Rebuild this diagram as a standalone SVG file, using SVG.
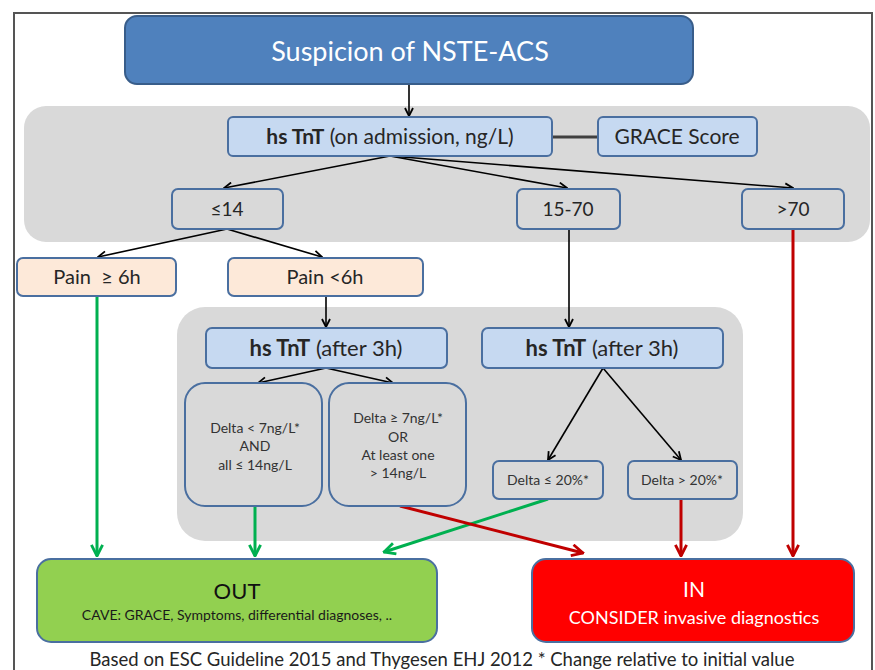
<svg xmlns="http://www.w3.org/2000/svg" width="875" height="670" viewBox="0 0 875 670">
<defs>
<style>
text{font-family:Lato,"Liberation Sans",sans-serif;text-anchor:middle;fill:#262626}
.area{fill:#d9d9d9}
.lb{fill:#c6d9f1;stroke:#4a6fa0;stroke-width:2}
.gb{fill:#d9d9d9;stroke:#4a6fa0;stroke-width:2}
.pb{fill:#fde9d9;stroke:#4a6fa0;stroke-width:2}
.k{stroke:#000;stroke-width:1.6;fill:none;marker-end:url(#ak)}
.g{stroke:#00b050;stroke-width:3;fill:none;marker-end:url(#ag)}
.r{stroke:#c00000;stroke-width:3;fill:none;marker-end:url(#ar)}
.s{font-size:14px;fill:#333}
</style>
<marker id="ak" viewBox="0 0 10 10" refX="9" refY="5" markerWidth="10" markerHeight="10" orient="auto" markerUnits="userSpaceOnUse"><path d="M1,1 L9,5 L1,9" fill="none" stroke="#000" stroke-width="1.8"/></marker>
<marker id="ag" viewBox="0 0 10 10" refX="9" refY="5" markerWidth="14" markerHeight="14" orient="auto" markerUnits="userSpaceOnUse"><path d="M1,1 L9,5 L1,9" fill="none" stroke="#00b050" stroke-width="2"/></marker>
<marker id="ar" viewBox="0 0 10 10" refX="9" refY="5" markerWidth="14" markerHeight="14" orient="auto" markerUnits="userSpaceOnUse"><path d="M1,1 L9,5 L1,9" fill="none" stroke="#c00000" stroke-width="2"/></marker>
</defs>
<rect x="0" y="0" width="875" height="670" fill="#fff"/>
<rect x="14" y="13" width="858" height="680" fill="none" stroke="#555" stroke-width="2"/>
<g id="areas">
<rect class="area" x="24" y="106" width="846" height="136" rx="22"/>
<rect class="area" x="177" y="307" width="566" height="234" rx="28"/>
</g>
<g id="connectors">
<line class="k" x1="409" y1="84" x2="409" y2="116"/>
<line x1="552" y1="137" x2="598" y2="137" stroke="#404040" stroke-width="3"/>
<line class="k" x1="390" y1="156" x2="224" y2="188"/>
<line class="k" x1="390" y1="156" x2="567" y2="188"/>
<line class="k" x1="390" y1="156" x2="793" y2="188"/>
<line class="k" x1="227" y1="229" x2="98" y2="257"/>
<line class="k" x1="227" y1="229" x2="322" y2="257"/>
<line class="k" x1="326" y1="296" x2="326" y2="327"/>
<line class="k" x1="569" y1="229" x2="569" y2="327"/>
<line class="k" x1="326" y1="368" x2="258" y2="383"/>
<line class="k" x1="326" y1="368" x2="393" y2="383"/>
<line class="k" x1="603" y1="368" x2="548" y2="460"/>
<line class="k" x1="603" y1="368" x2="681" y2="460"/>
<line class="g" x1="97" y1="296" x2="97" y2="556"/>
<line class="g" x1="255" y1="506" x2="255" y2="556"/>
<line class="g" x1="548" y1="499" x2="384" y2="552"/>
<line class="r" x1="400" y1="506" x2="583" y2="553"/>
<line class="r" x1="681" y1="499" x2="681" y2="556"/>
<line class="r" x1="793" y1="229" x2="793" y2="556"/>
</g>
<g id="n-start">
<rect x="125" y="16" width="568" height="68" rx="12" fill="#4f81bd" stroke="#385d8a" stroke-width="2"/>
<text x="410" y="61" font-size="27" style="fill:#fff">Suspicion of NSTE-ACS</text>
</g>
<g id="n-hstnt">
<rect class="lb" x="228" y="117" width="324" height="39" rx="5"/>
<text x="390" y="144" font-size="21"><tspan font-weight="bold">hs TnT</tspan> (on admission, ng/L)</text>
</g>
<g id="n-grace">
<rect class="lb" x="598" y="117" width="159" height="39" rx="5"/>
<text x="677" y="144" font-size="21">GRACE Score</text>
</g>
<g id="n-le14">
<rect class="gb" x="172" y="189" width="111" height="40" rx="6"/>
<text x="227" y="216" font-size="19">≤14</text>
</g>
<g id="n-15-70">
<rect class="gb" x="517" y="189" width="103" height="40" rx="6"/>
<text x="568" y="216" font-size="19">15-70</text>
</g>
<g id="n-gt70">
<rect class="gb" x="742" y="189" width="102" height="40" rx="6"/>
<text x="793" y="216" font-size="19">&gt;70</text>
</g>
<g id="n-pain6">
<rect class="pb" x="17" y="258" width="159" height="38" rx="6"/>
<text x="97" y="284" font-size="20" xml:space="preserve">Pain  ≥ 6h</text>
</g>
<g id="n-painlt6">
<rect class="pb" x="228" y="258" width="195" height="38" rx="6"/>
<text x="325" y="284" font-size="20">Pain &lt;6h</text>
</g>
<g id="n-hs3-left">
<rect class="lb" x="206" y="328" width="241" height="40" rx="6"/>
<text x="326" y="356" font-size="22"><tspan font-weight="bold">hs TnT</tspan> (after 3h)</text>
</g>
<g id="n-hs3-right">
<rect class="lb" x="482" y="328" width="241" height="40" rx="6"/>
<text x="602" y="356" font-size="22"><tspan font-weight="bold">hs TnT</tspan> (after 3h)</text>
</g>
<g id="n-delta-lt7">
<rect class="gb" x="185" y="383" width="137" height="123" rx="20"/>
<text class="s" x="255" y="433">Delta &lt; 7ng/L*</text>
<text class="s" x="255" y="451">AND</text>
<text class="s" x="255" y="470">all  ≤ 14ng/L</text>
</g>
<g id="n-delta-ge7">
<rect class="gb" x="329" y="383" width="137" height="123" rx="20"/>
<text class="s" x="398" y="423">Delta ≥ 7ng/L*</text>
<text class="s" x="398" y="442">OR</text>
<text class="s" x="398" y="460">At least one</text>
<text class="s" x="398" y="478">&gt; 14ng/L</text>
</g>
<g id="n-delta-le20">
<rect class="gb" x="493" y="461" width="110" height="38" rx="6"/>
<text class="s" x="548" y="485">Delta ≤ 20%*</text>
</g>
<g id="n-delta-gt20">
<rect class="gb" x="628" y="461" width="109" height="38" rx="6"/>
<text class="s" x="682" y="485">Delta &gt; 20%*</text>
</g>
<g id="n-out">
<rect x="37" y="559" width="400" height="83" rx="14" fill="#92d050" stroke="#4a6fa0" stroke-width="2"/>
<text x="237" y="599" font-size="22" style="fill:#111">OUT</text>
<text x="237" y="620" font-size="14" style="fill:#1a1a1a">CAVE: GRACE, Symptoms, differential diagnoses, ..</text>
</g>
<g id="n-in">
<rect x="532" y="559" width="322" height="83" rx="14" fill="#ff0000" stroke="#4a6fa0" stroke-width="2"/>
<text x="694" y="597" font-size="21" style="fill:#fff">IN</text>
<text x="694" y="624" font-size="18" style="fill:#fff">CONSIDER invasive diagnostics</text>
</g>
<text x="442" y="666" font-size="18.5">Based on ESC Guideline 2015 and Thygesen EHJ 2012 * Change relative to initial value</text>
</svg>
